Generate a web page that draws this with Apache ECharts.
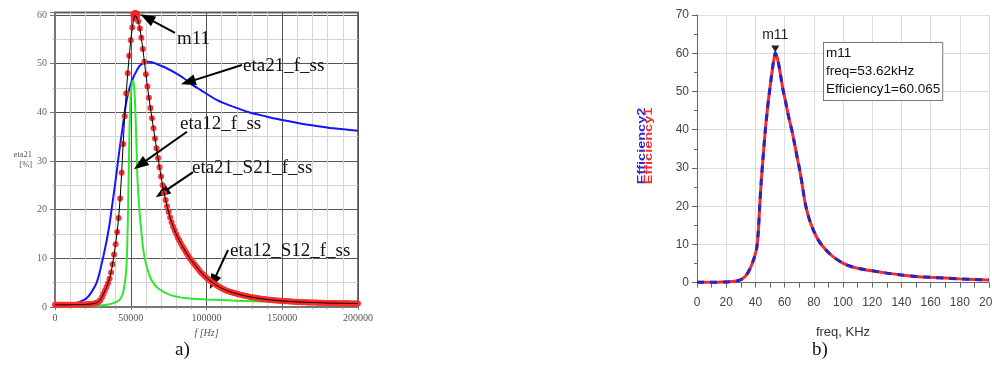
<!DOCTYPE html>
<html>
<head>
<meta charset="utf-8">
<script src="https://cdn.jsdelivr.net/npm/echarts@6/dist/echarts.min.js"></script>
<style>
  html, body { margin: 0; padding: 0; background: #fff; }
  #chart { width: 992px; height: 365px; }
</style>
</head>
<body>
<div id="chart"></div>
<script>
// ---------- Panel a: efficiency vs frequency (Hz) ----------
// eta21_S21_f_ss and eta12_S12_f_ss coincide; sampled every 1000 Hz from 0 to 200000 Hz
const stepA = 1000;
const etaS = [
  0.45,0.45,0.45,0.45,0.45,0.45,0.45,0.45,0.45,0.45,
  0.46,0.46,0.47,0.47,0.48,0.49,0.5,0.5,0.51,0.52,
  0.53,0.55,0.57,0.6,0.63,0.68,0.74,0.82,0.95,1.15,
  1.45,2.0,2.7,3.4,4.1,4.9,5.8,7.1,8.8,10.8,
  12.9,15.4,18.3,22.3,27.6,33.5,39.2,43.9,48.0,51.6,
  54.8,57.4,59.2,60.0,59.7,58.7,57.2,55.3,53.0,50.4,
  47.8,45.3,43.0,40.9,38.8,36.7,34.6,32.6,30.6,28.7,
  26.8,25.0,23.4,22.0,20.7,19.5,18.4,17.4,16.5,15.7,
  15.0,14.3,13.7,13.1,12.5,12.0,11.5,11.0,10.5,10.0,
  9.6,9.2,8.8,8.4,8.0,7.6,7.2,6.9,6.6,6.3,
  6.0,5.75,5.5,5.25,5.0,4.8,4.6,4.4,4.2,4.0,
  3.85,3.7,3.55,3.4,3.3,3.2,3.1,3.0,2.9,2.8,
  2.72,2.64,2.56,2.48,2.4,2.33,2.26,2.19,2.12,2.06,
  2.0,1.95,1.9,1.85,1.8,1.75,1.7,1.66,1.62,1.58,
  1.54,1.5,1.47,1.44,1.41,1.38,1.35,1.32,1.29,1.26,
  1.24,1.22,1.2,1.18,1.16,1.14,1.12,1.1,1.08,1.06,
  1.05,1.03,1.02,1.0,0.99,0.98,0.96,0.95,0.94,0.93,
  0.92,0.91,0.9,0.89,0.88,0.87,0.86,0.85,0.84,0.83,
  0.82,0.815,0.81,0.805,0.8,0.79,0.785,0.78,0.775,0.77,
  0.765,0.76,0.755,0.75,0.745,0.74,0.735,0.73,0.725,0.72,
  0.72
];

// eta21_f_ss
const freqBlue = [0,10000,14300,18000,20900,24000,27500,30000,32000,34000,36000,38000,40000,42000,44000,46000,47500,49500,51700,54000,56100,59000,62000,65000,68000,74000,80000,85000,90000,96000,107000,118000,128000,140000,150000,162000,175000,184000,200000];
const eta21 = [0.3,0.35,0.75,1.3,1.8,3.0,5.0,7.8,10.5,13.5,17.0,21.5,26.0,31.0,35.5,40.0,42.8,45.3,47.2,48.6,49.6,50.2,50.4,50.2,49.8,49.0,48.0,47.0,45.8,44.6,42.5,41.1,40.0,39.1,38.4,37.7,37.1,36.7,36.2];

// eta12_f_ss
const freqGreen = [0,10000,20000,30000,35000,38000,41000,43000,44500,45500,46500,47300,47800,48300,48800,49300,50000,50800,51700,52500,53200,53900,54500,55300,56100,57200,58300,60500,63800,68200,75900,86900,100000,120000,150000,175000,200000];
const eta12 = [0.1,0.1,0.15,0.3,0.5,0.75,1.1,1.6,2.5,3.8,6.0,9.0,14.0,21.0,30.0,38.0,43.5,45.8,46.5,44.0,39.0,32.0,26.0,22.0,18.5,15.0,11.7,8.3,5.5,3.8,2.5,1.8,1.55,1.3,1.0,0.85,0.75];

const markerA = { freq: 53000, eta: 60.0 };

// curve captions with arrows: text anchor, arrow tail, arrow tip (Hz, %)
const captionsA = [
  { text: 'm11',            at: [80500, 55.1],  from: [79200, 56.3],  to: [60700, 59.4] },
  { text: 'eta21_f_ss',     at: [124100, 49.5], from: [123400, 49.7], to: [87800, 46.2] },
  { text: 'eta12_f_ss',     at: [82500, 37.6],  from: [87100, 36.0],  to: [56100, 29.2] },
  { text: 'eta21_S21_f_ss', at: [90400, 28.6],  from: [91100, 27.7],  to: [70600, 23.4] },
  { text: 'eta12_S12_f_ss', at: [115500, 11.5], from: [114200, 11.7], to: [104300, 5.1] }
];

// ---------- Panel b: Efficiency1 / Efficiency2 vs frequency (kHz) ----------
const freqB = [0,5,10,15,20,24,27,30,32,34,36,38,40,41,42,43,44,45,46,47,48,49,50,51,52,53,53.62,54,55,56,57,58,59,60,61,62,63,64,65,66,67,68,69,70,71,72,73,74,76,78,80,83,86,90,95,100,105,110,120,130,140,150,160,170,180,190,200];
const effB = [0.1,0.1,0.12,0.15,0.2,0.3,0.45,0.8,1.3,2.1,3.4,5.2,7.6,9.3,13.5,20.5,26.5,31.5,36.3,40.8,44.5,48.0,51.0,54.0,56.8,59.0,60.065,59.8,58.8,57.0,54.8,52.5,50.3,48.5,46.7,44.8,43.0,41.4,39.8,37.9,36.0,34.0,32.0,30.2,28.0,25.8,23.3,21.0,17.8,15.4,13.5,11.2,9.6,7.9,6.3,5.1,4.3,3.8,3.1,2.5,2.0,1.65,1.4,1.2,1.0,0.85,0.72];

const markerB = { name: 'm11', freq: 53.62, eff: 60.065 };

const serif = "'Liberation Serif', 'Times New Roman', serif";
const sans = "'Liberation Sans', Arial, sans-serif";

const chart = echarts.init(document.getElementById('chart'), null, { renderer: 'canvas' });

const option = {
  animation: false,
  backgroundColor: '#fff',
  grid: [
    { left: 55, top: 12.5, width: 303, height: 294.5, show: true, borderColor: '#777', borderWidth: 2,
      containLabel: false, outerBoundsMode: 'none' },
    { left: 697, top: 15, width: 292, height: 267.7, show: false,
      containLabel: false, outerBoundsMode: 'none' }
  ],
  xAxis: [
    {
      gridIndex: 0, type: 'value', min: 0, max: 200000, interval: 50000,
      name: 'f [Hz]', nameLocation: 'middle', nameGap: 18,
      nameTextStyle: { fontFamily: serif, fontStyle: 'italic', fontSize: 10, color: '#555' },
      axisLine: { show: true, lineStyle: { color: '#777', width: 2 } },
      axisTick: { show: true, length: 3, lineStyle: { color: '#777' } },
      minorTick: { show: true, splitNumber: 5, length: 2, lineStyle: { color: '#999' } },
      axisLabel: { fontFamily: serif, fontSize: 10, color: '#555', margin: 6, formatter: v => String(v) },
      splitLine: { show: true, lineStyle: { color: '#555', width: 1 } },
      minorSplitLine: { show: true, lineStyle: { color: '#d4d4d4', width: 1 } }
    },
    {
      gridIndex: 1, type: 'value', min: 0, max: 200, interval: 20,
      name: 'freq, KHz', nameLocation: 'middle', nameGap: 43,
      nameTextStyle: { fontFamily: sans, fontSize: 13, color: '#333' },
      axisLine: { show: true, lineStyle: { color: '#666', width: 1 } },
      axisTick: { show: true, length: 5, lineStyle: { color: '#666' } },
      minorTick: { show: true, splitNumber: 2, length: 5, lineStyle: { color: '#666' } },
      axisLabel: { fontFamily: sans, fontSize: 12, color: '#444', margin: 14, formatter: v => String(v) },
      splitLine: { show: true, lineStyle: { color: '#dcdcdc', width: 1 } }
    }
  ],
  yAxis: [
    {
      gridIndex: 0, type: 'value', min: 0, max: 60.5, interval: 10,
      name: 'eta21\n[%]', nameLocation: 'middle', nameRotate: 0, nameGap: 22,
      nameTextStyle: { fontFamily: serif, fontSize: 8.5, color: '#555', lineHeight: 10 },
      axisLine: { show: true, lineStyle: { color: '#777', width: 2 } },
      axisTick: { show: true, length: 5, lineStyle: { color: '#777' } },
      minorTick: { show: true, splitNumber: 2, length: 2, lineStyle: { color: '#999' } },
      axisLabel: {
        fontFamily: serif, fontSize: 10, color: '#666', margin: 8,
        formatter: v => (Math.abs(v % 10) < 1e-9 ? String(v) : '')
      },
      splitLine: { show: true, lineStyle: { color: '#555', width: 1 } },
      minorSplitLine: { show: true, lineStyle: { color: '#d4d4d4', width: 1 } }
    },
    {
      gridIndex: 1, type: 'value', min: 0, max: 70, interval: 10,
      axisLine: { show: true, lineStyle: { color: '#666', width: 1 } },
      axisTick: { show: true, length: 5, lineStyle: { color: '#666' } },
      minorTick: { show: true, splitNumber: 2, length: 3, lineStyle: { color: '#666' } },
      axisLabel: { fontFamily: sans, fontSize: 12, color: '#444', margin: 8 },
      splitLine: { show: true, lineStyle: { color: '#dcdcdc', width: 1 } }
    }
  ],
  series: [
    {
      name: 'eta21_f_ss', type: 'line', xAxisIndex: 0, yAxisIndex: 0,
      data: freqBlue.map((f, i) => [f, eta21[i]]),
      smooth: 0.3, showSymbol: false, z: 3,
      lineStyle: { color: '#1414ff', width: 2 }
    },
    {
      name: 'eta12_f_ss', type: 'line', xAxisIndex: 0, yAxisIndex: 0,
      data: freqGreen.map((f, i) => [f, eta12[i]]),
      smooth: 0.3, showSymbol: false, z: 4,
      lineStyle: { color: '#2ee82e', width: 2 }
    },
    {
      name: 'eta12_S12_f_ss', type: 'scatter', xAxisIndex: 0, yAxisIndex: 0,
      data: etaS.map((v, i) => [i * stepA, v]),
      symbol: 'circle', symbolSize: 6, z: 5,
      itemStyle: { color: '#ff2a2a', opacity: 0.95 },
      markPoint: {
        silent: true, animation: false,
        symbol: 'circle', symbolSize: 10,
        itemStyle: { color: '#ff1a1a' },
        label: { show: false },
        data: [{ coord: [markerA.freq, markerA.eta] }]
      }
    },
    {
      name: 'eta21_S21_f_ss', type: 'line', xAxisIndex: 0, yAxisIndex: 0,
      data: etaS.map((v, i) => [i * stepA, v]),
      showSymbol: false, z: 6,
      lineStyle: { color: '#000', width: 1 },
      markLine: {
        silent: true, animation: false,
        symbol: ['none', 'triangle'], symbolSize: [11, 15],
        lineStyle: { color: '#000', width: 2, type: 'solid' },
        itemStyle: { color: '#000' },
        label: { show: false },
        data: captionsA.map(c => [{ coord: c.from }, { coord: c.to }])
      },
      markPoint: {
        silent: true, animation: false,
        symbol: 'circle', symbolSize: 0,
        label: {
          show: true, position: 'right', distance: 0,
          fontFamily: serif, fontSize: 19, color: '#111',
          formatter: p => p.name
        },
        data: captionsA.map(c => ({ name: c.text, coord: c.at }))
      }
    },
    {
      name: 'Efficiency1', type: 'line', xAxisIndex: 1, yAxisIndex: 1,
      data: freqB.map((f, i) => [f, effB[i]]),
      smooth: 0.3, showSymbol: false, z: 3,
      lineStyle: { color: '#f52a2a', width: 3 },
      markPoint: {
        silent: true, animation: false,
        symbol: 'triangle', symbolRotate: 180, symbolSize: [8, 7], symbolOffset: [0, -4],
        itemStyle: { color: '#222' },
        label: {
          show: true, position: 'top', distance: 3,
          fontFamily: sans, fontSize: 14, color: '#222',
          formatter: () => markerB.name
        },
        data: [{ coord: [markerB.freq, markerB.eff] }]
      }
    },
    {
      name: 'Efficiency2', type: 'line', xAxisIndex: 1, yAxisIndex: 1,
      data: freqB.map((f, i) => [f, effB[i]]),
      smooth: 0.3, showSymbol: false, z: 4,
      lineStyle: { color: '#2424c8', width: 3, type: [7, 6] },
      markPoint: {
        silent: true, animation: false,
        symbol: 'circle', symbolSize: 0,
        label: {
          show: true, position: 'right', distance: 0,
          fontFamily: sans, fontSize: 13.5, color: '#111', lineHeight: 18,
          backgroundColor: '#fff', borderColor: '#777', borderWidth: 1,
          padding: [2, 2, 1, 2],
          formatter: () => markerB.name + '\nfreq=' + markerB.freq + 'kHz\nEfficiency1=' + markerB.eff.toFixed(3)
        },
        data: [{ coord: [87, 55.2] }]
      }
    }
  ],
  graphic: [
    // stacked y-axis titles of panel b, drawn bottom-to-top
    { type: 'text', x: 642, y: 146, rotation: Math.PI / 2, scaleX: 1.45,
      style: { text: 'Efficiency2', font: "bold 10px 'Liberation Sans', Arial, sans-serif", fill: '#2a2ad6', align: 'center', verticalAlign: 'middle' } },
    { type: 'text', x: 649, y: 146, rotation: Math.PI / 2, scaleX: 1.45,
      style: { text: 'Efficiency1', font: "bold 10px 'Liberation Sans', Arial, sans-serif", fill: '#f03030', align: 'center', verticalAlign: 'middle' } },
    { type: 'text', left: 175, top: 341, style: { text: 'a)', font: "19px 'Liberation Serif', serif", fill: '#111' } },
    { type: 'text', left: 812, top: 341, style: { text: 'b)', font: "19px 'Liberation Serif', serif", fill: '#111' } }
  ]
};

chart.setOption(option);
</script>
</body>
</html>
